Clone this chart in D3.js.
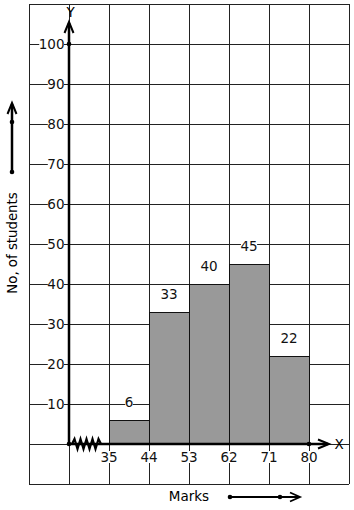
<!DOCTYPE html>
<html><head><meta charset="utf-8">
<script src="https://cdn.jsdelivr.net/npm/d3@7"></script>
<style>html,body{margin:0;padding:0;background:#fff;}svg{display:block;font-family:"DejaVu Sans",sans-serif;}</style>
</head><body>
<script>
const classStarts = [35, 44, 53, 62, 71];
const classEnds = [44, 53, 62, 71, 80];
const students = [6, 33, 40, 45, 22];
const xTickLabels = [35, 44, 53, 62, 71, 80];
const yTickLabels = [10, 20, 30, 40, 50, 60, 70, 80, 90, 100];
const xTitle = "Marks";
const yTitle = "No, of students";

const W = 354, H = 510;
const FS = 13.5;
const svg = d3.select("body").append("svg").attr("width", W).attr("height", H);

const x = d3.scaleLinear().domain([35, 80]).range([109, 309]);
const y = d3.scaleLinear().domain([0, 100]).range([444, 44]);
const xMin = 17, xMax = 89, yMin = -10, yMax = 110;

const gridColor = "#222";
const g = svg.append("g");
d3.range(xMin, xMax + 1, 9).forEach(v => {
  g.append("line").attr("x1", x(v)).attr("x2", x(v)).attr("y1", y(yMax)).attr("y2", y(yMin))
    .attr("stroke", gridColor).attr("stroke-width", 1).attr("shape-rendering", "crispEdges");
});
d3.range(yMin, yMax + 1, 10).forEach(v => {
  g.append("line").attr("x1", x(xMin)).attr("x2", x(xMax)).attr("y1", y(v)).attr("y2", y(v))
    .attr("stroke", gridColor).attr("stroke-width", 1).attr("shape-rendering", "crispEdges");
});

svg.append("g").selectAll("rect").data(students).join("rect")
  .attr("x", (d, i) => x(classStarts[i]))
  .attr("width", (d, i) => x(classEnds[i]) - x(classStarts[i]))
  .attr("y", d => y(d))
  .attr("height", d => y(0) - y(d))
  .attr("fill", "#999999").attr("stroke", "#111").attr("stroke-width", 1)
  .attr("shape-rendering", "crispEdges");

function labelWithBg(parent, tx, ty, text, anchor) {
  const t = parent.append("text").attr("x", tx).attr("y", ty).attr("text-anchor", anchor)
    .attr("dominant-baseline", "central").attr("font-size", FS).attr("fill", "#111").text(text);
  const b = t.node().getBBox();
  parent.insert("rect", () => t.node()).attr("x", b.x + 0.5).attr("y", b.y + 2).attr("width", b.width - 1).attr("height", b.height - 4).attr("fill", "#fff");
  return t;
}

const vl = svg.append("g");
students.forEach((d, i) => {
  labelWithBg(vl, (x(classStarts[i]) + x(classEnds[i])) / 2, y(d) - 18, String(d), "middle");
});

const yl = svg.append("g");
yTickLabels.forEach(v => labelWithBg(yl, 64.5, y(v), String(v), "end"));
const xl = svg.append("g");
xTickLabels.forEach(v => labelWithBg(xl, x(v), 457, String(v), "middle"));

const ax = svg.append("g").attr("stroke", "#000").attr("fill", "none");
const x0 = 69, y0 = y(0);
ax.append("line").attr("x1", x0).attr("x2", x0).attr("y1", y0).attr("y2", 23).attr("stroke-width", 2.5);
ax.append("path").attr("d", `M${x0 - 4.5},${33} L${x0},${22} L${x0 + 4.5},${33}`).attr("stroke-width", 2);
ax.append("line").attr("x1", x0).attr("x2", 328).attr("y1", y0).attr("y2", y0).attr("stroke-width", 2.5);
ax.append("path").attr("d", `M${318},${y0 - 4.5} L${329},${y0} L${318},${y0 + 4.5}`).attr("stroke-width", 2);
let zz = `M72,${y0}`;
for (let i = 0; i < 9; i++) {
  const xx = 74.5 + i * 3;
  zz += ` L${xx},${y0 + (i % 2 === 0 ? -5 : 5)}`;
}
zz += ` L${101},${y0}`;
ax.append("path").attr("d", zz).attr("stroke-width", 2.2);

const dots = svg.append("g").attr("fill", "#000");
[[x0, y0], [x0, y(100)], [x(80), y0]].forEach(p => dots.append("circle").attr("cx", p[0]).attr("cy", p[1]).attr("r", 2.3));

svg.append("text").attr("x", x0 + 1.5).attr("y", 16.5).attr("text-anchor", "middle")
  .attr("font-size", FS).text("Y");
svg.append("text").attr("x", 339).attr("y", y0).attr("text-anchor", "middle").attr("dominant-baseline", "central")
  .attr("font-size", FS).text("X");

const ly = svg.append("g");
ly.append("line").attr("x1", 12).attr("x2", 12).attr("y1", 172).attr("y2", 104).attr("stroke", "#000").attr("stroke-width", 2.5);
ly.append("path").attr("d", "M7.5,114 L12,103 L16.5,114").attr("stroke", "#000").attr("stroke-width", 2).attr("fill", "none");
ly.append("circle").attr("cx", 12).attr("cy", 122).attr("r", 2.3);
ly.append("circle").attr("cx", 12).attr("cy", 172).attr("r", 2.3);
ly.append("text").attr("transform", "translate(12,243) rotate(-90)").attr("text-anchor", "middle")
  .attr("dominant-baseline", "central").attr("font-size", 13.3).text(yTitle);

const lx = svg.append("g");
lx.append("text").attr("x", 189).attr("y", 496).attr("text-anchor", "middle").attr("dominant-baseline", "central")
  .attr("font-size", FS).text(xTitle);
lx.append("line").attr("x1", 230).attr("x2", 299).attr("y1", 497).attr("y2", 497).attr("stroke", "#000").attr("stroke-width", 2);
lx.append("path").attr("d", "M290,492.5 L300,497 L290,501.5").attr("stroke", "#000").attr("stroke-width", 1.8).attr("fill", "none");
lx.append("circle").attr("cx", 230).attr("cy", 497).attr("r", 2.3);
lx.append("circle").attr("cx", 280).attr("cy", 497).attr("r", 2.3);
</script>
</body></html>
